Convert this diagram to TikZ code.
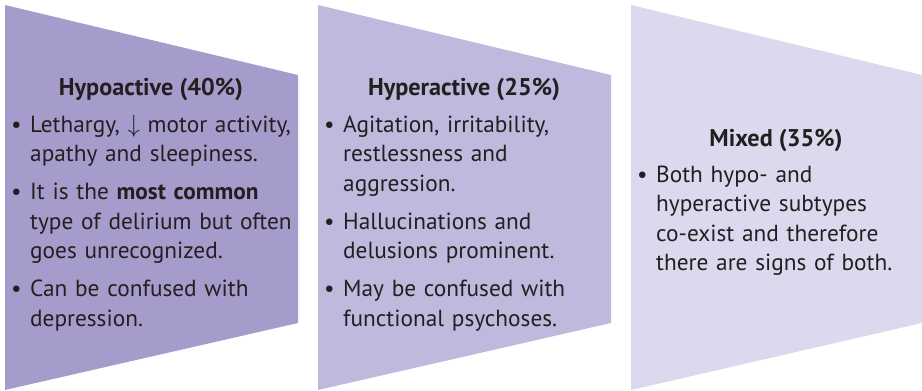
\documentclass[tikz,border=0pt]{standalone}
\usepackage{fontspec}
\setmainfont{PT Sans}
\usepackage{tikz}
\usetikzlibrary{positioning}
\definecolor{hypocol}{RGB}{165,156,204}
\definecolor{hypercol}{RGB}{190,185,221}
\definecolor{mixedcol}{RGB}{219,217,238}
\definecolor{inkdark}{RGB}{35,31,32}
\tikzset{
  panelfill/.style={draw=none},
  titletext/.style={font=\fontsize{24.2}{29.5}\selectfont\bfseries,text=inkdark,anchor=base,inner sep=0pt},
  listtext/.style={font=\fontsize{23.3}{29.5}\selectfont,text=inkdark,align=left,text width=300pt,anchor=base west,inner sep=0pt}
}
\newcommand{\bpoint}[1]{\hangindent=19pt\hangafter=1\noindent\makebox[19pt][l]{\textbullet}#1\par}
\newcommand{\bgap}{\vspace{8.5pt}}

\begin{document}
\begin{tikzpicture}[x=1pt,y=-1pt]
  \useasboundingbox (0,0) rectangle (922,391);

  %% Three tapering panels
  \fill[hypocol,panelfill]   (5,5)   -- (298,75) -- (298,323) -- (5,390)   -- cycle;
  \fill[hypercol,panelfill]  (318,5) -- (611,75) -- (611,323) -- (318,390) -- cycle;
  \fill[mixedcol,panelfill]  (631,5) -- (922,75) -- (922,323) -- (631,390) -- cycle;

  %% Hypoactive
  \node[titletext] (hypotitle) at (151,95) {Hypoactive (40\%)};
  \node[listtext] (hypolist) at (11,132) {%
    \bpoint{Lethargy, $\downarrow$ motor activity,\newline apathy and sleepiness.}\bgap
    \bpoint{It is the \textbf{most common}\newline type of delirium but often\newline goes unrecognized.}\bgap
    \bpoint{Can be confused with\newline depression.}};

  %% Hyperactive
  \node[titletext] (hypertitle) at (464,95) {Hyperactive (25\%)};
  \node[listtext] (hyperlist) at (324,132) {%
    \bpoint{Agitation, irritability,\newline restlessness and\newline aggression.}\bgap
    \bpoint{Hallucinations and\newline delusions prominent.}\bgap
    \bpoint{May be confused with\newline functional psychoses.}};

  %% Mixed
  \node[titletext] (mixedtitle) at (776,146) {Mixed (35\%)};
  \node[listtext] (mixedlist) at (637,182) {%
    \bpoint{Both hypo- and\newline hyperactive subtypes\newline co-exist and therefore\newline there are signs of both.}};
\end{tikzpicture}
\end{document}
